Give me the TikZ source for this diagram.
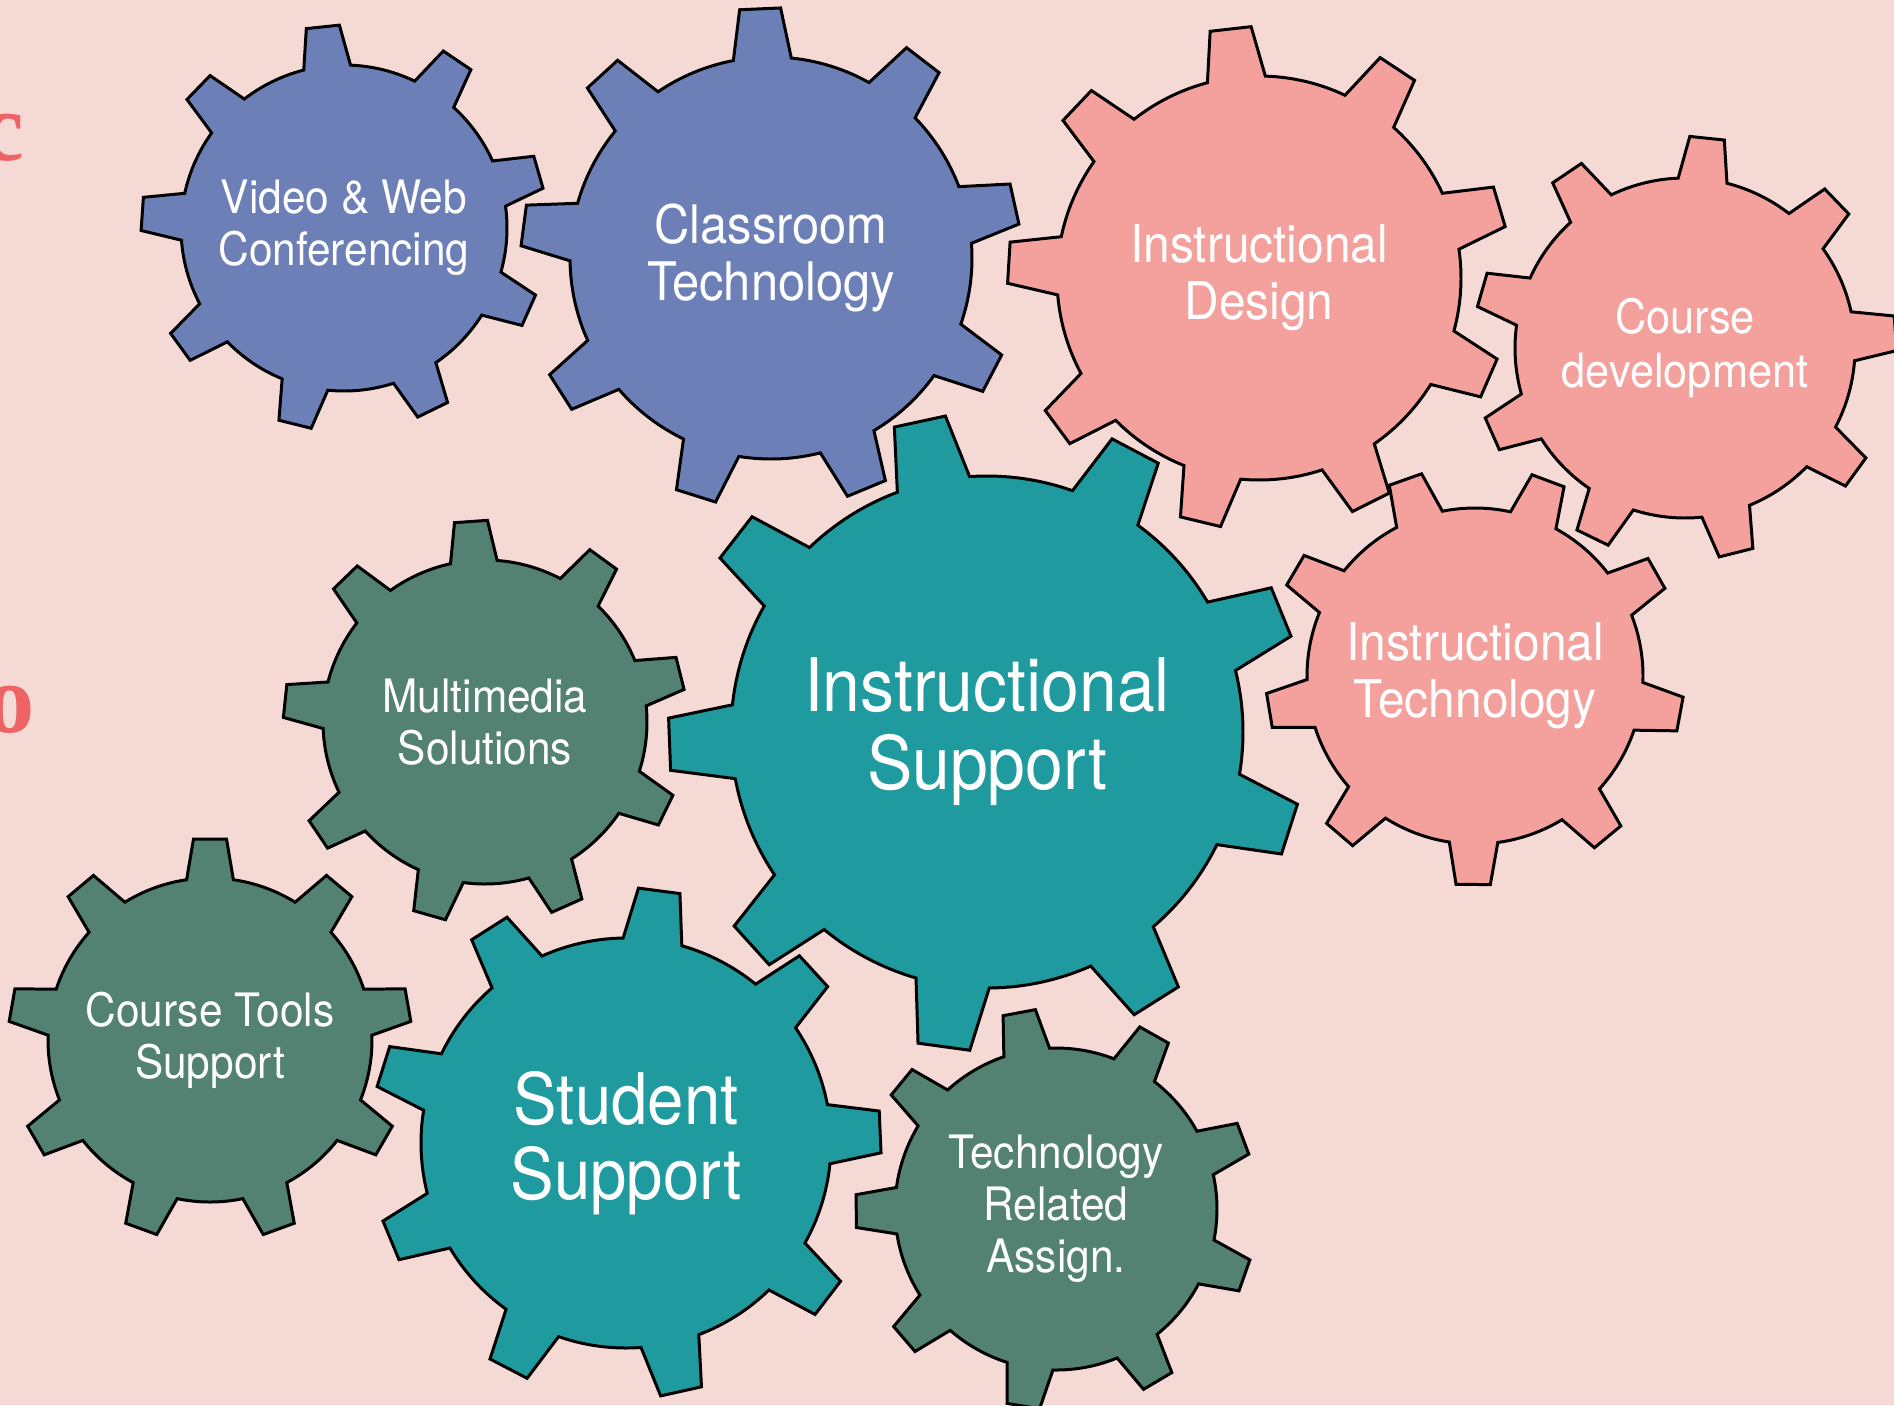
\documentclass[tikz,border=0pt]{standalone}
\usepackage{fontspec}
\setmainfont[FakeStretch=0.92]{TeX Gyre Heros}
\newfontfamily\fragfont{Liberation Serif}
\definecolor{bgpink}{HTML}{F5D9D5}
\definecolor{gblue}{HTML}{6D7FB7}
\definecolor{gpink}{HTML}{F4A19E}
\definecolor{gteal}{HTML}{1F9BA0}
\definecolor{ggreen}{HTML}{538272}
\definecolor{fragred}{HTML}{EE6464}
\tikzset{
  gear/.style={draw=black, line width=0.85pt, line join=miter},
  gtext/.style={text=white, align=center, inner sep=0pt},
  frag/.style={text=fragred, inner sep=0pt, font=\fragfont\bfseries\fontsize{28}{28}\selectfont},
}

\begin{document}
\begin{tikzpicture}[x=0.01cm, y=-0.01cm]
    \fill[bgpink] (0,0) rectangle (1894,1405);
    \useasboundingbox (0,0) rectangle (1894,1405);

    % title letters cut by the left edge
    \node[frag] (fc) at (2,138) {c};
    \node[frag] (fo) at (10,710) {o};

    % gears: centre / body radius / phase / colour / font size / leading / text
    \foreach \cx/\cy/\rb/\ph/\col/\fs/\ld/\txt [count=\k] in {
            344/228/163/24/gblue/13.1/14.8/{Video \& Web\\Conferencing},
            771/258/201/27.5/gblue/15.1/16.3/{Classroom\\Technology},
            1259/278/202/23.5/gpink/14.8/16.3/{Instructional\\Design},
            1685/348/170/36/gpink/13.4/15.2/{Course\\development},
            1475/676/168/10.5/gpink/14.8/16.3/{Instructional\\Technology},
            987/732/256/17.8/gteal/21/22.2/{Instructional\\Support},
            485/722/162/26/ggreen/13.1/14.8/{Multimedia\\Solutions},
            210/1040/162/30/ggreen/13.1/14.8/{Course Tools\\Support},
            626/1143/205/37.5/gteal/20.2/21.3/{Student\\Support},
            1056/1209/161/19.4/ggreen/13.1/14.8/{Technology\\Related\\Assign.}} {
            \draw[gear, fill=\col, shift={(\cx,\cy)}] ({\ph-8.3}:\rb)
                \foreach \t in {0,...,8} {
                    -- ({\ph+40*\t-4.7}:{1.245*\rb}) -- ({\ph+40*\t+4.7}:{1.245*\rb})
                    -- ({\ph+40*\t+8.3}:\rb)
                    arc[start angle={\ph+40*\t+8.3}, end angle={\ph+40*\t+31.7}, radius=\rb]
                } -- cycle;
            \node[gtext, font=\fontsize{\fs}{\ld}\selectfont] (g\k) at (\cx,\cy) {\txt};
        }
\end{tikzpicture}
\end{document}
